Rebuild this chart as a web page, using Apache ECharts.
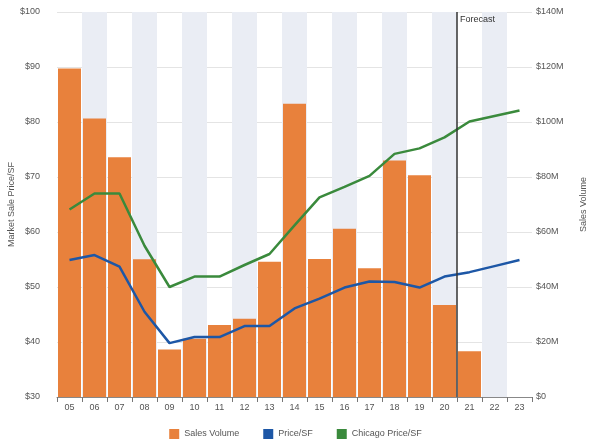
<!DOCTYPE html>
<html>
<head>
<meta charset="utf-8">
<script src="https://cdn.jsdelivr.net/npm/echarts@6/dist/echarts.min.js"></script>
<style>
  html, body { margin: 0; padding: 0; background: #fff; }
  #main { width: 591px; height: 446px; }
</style>
</head>
<body>
<div id="main"></div>
<script>
// years on the x axis
const years = ['05','06','07','08','09','10','11','12','13','14','15','16','17','18','19','20','21','22','23'];
// sales volume, $M (right axis)
const salesVolume = [119.5, 101.3, 87.2, 50.1, 17.3, 21.2, 26.2, 28.5, 49.2, 106.6, 50.2, 61.2, 46.8, 86.0, 80.6, 33.5, 16.6, null, null];
// market sale price per SF (left axis)
const priceSF = [54.9, 55.8, 53.7, 45.5, 39.8, 40.9, 40.9, 42.9, 42.9, 46.1, 47.9, 49.9, 51.0, 50.9, 49.9, 51.9, 52.7, 53.8, 54.9];
const chicagoPriceSF = [64.1, 67.0, 67.0, 57.5, 50.0, 51.9, 51.9, 54.0, 56.0, 61.2, 66.3, 68.2, 70.2, 74.2, 75.2, 77.2, 80.1, 81.1, 82.1];
// forecast starts between '20' and '21' (category index)
const forecastAt = 15.5;

const labelColor = '#555';
const font = 'Liberation Sans';

let myChart = echarts.init(document.getElementById('main'));
const option = {
  animation: false,
  textStyle: { fontFamily: font },
  grid: { left: 57, right: 59, top: 12, bottom: 49, outerBoundsMode: 'none', containLabel: false },
  legend: {
    bottom: 2,
    left: 'center',
    itemWidth: 10,
    itemHeight: 10,
    itemGap: 24,
    icon: 'rect',
    textStyle: { fontSize: 9, color: labelColor, fontFamily: font },
    data: ['Sales Volume', 'Price/SF', 'Chicago Price/SF']
  },
  xAxis: [
    {
      type: 'category',
      data: years,
      axisLine: { lineStyle: { color: '#888' } },
      axisTick: { show: true, length: 5, lineStyle: { color: '#777' } },
      axisLabel: { fontSize: 9, color: labelColor, margin: 6 },
      splitArea: { show: true, areaStyle: { color: ['rgba(255,255,255,0)', '#eaedf4'] } }
    },
    {
      type: 'value',
      min: -0.5,
      max: years.length - 0.5,
      show: false
    }
  ],
  yAxis: [
    {
      type: 'value',
      name: 'Market Sale Price/SF',
      nameLocation: 'middle',
      nameGap: 45,
      nameMoveOverlap: false,
      nameTextStyle: { fontSize: 9, color: labelColor, verticalAlign: 'middle' },
      min: 30, max: 100, interval: 10,
      axisLine: { show: false },
      axisTick: { show: false },
      axisLabel: { fontSize: 9, color: labelColor, formatter: '${value}', margin: 17 },
      splitLine: { lineStyle: { color: '#e4e4e4' } }
    },
    {
      type: 'value',
      name: 'Sales Volume',
      nameLocation: 'middle',
      nameGap: 47,
      nameMoveOverlap: false,
      nameTextStyle: { fontSize: 9, color: labelColor },
      min: 0, max: 140, interval: 20,
      axisLine: { show: false },
      axisTick: { show: false },
      axisLabel: { fontSize: 9, color: labelColor, formatter: v => v === 0 ? '$0' : '$' + v + 'M', margin: 4 },
      splitLine: { show: false }
    }
  ],
  series: [
    {
      name: 'Sales Volume',
      type: 'bar',
      yAxisIndex: 1,
      data: salesVolume,
      barCategoryGap: '8%',
      itemStyle: { color: '#e8813c' }
    },
    {
      name: 'Price/SF',
      type: 'line',
      data: priceSF,
      showSymbol: false,
      symbol: 'rect',
      lineStyle: { width: 2.5, color: '#1d57a6' },
      itemStyle: { color: '#1d57a6' }
    },
    {
      name: 'Chicago Price/SF',
      type: 'line',
      data: chicagoPriceSF,
      showSymbol: false,
      symbol: 'rect',
      lineStyle: { width: 2.5, color: '#3a8a3c' },
      itemStyle: { color: '#3a8a3c' }
    },
    {
      name: 'forecast',
      type: 'line',
      xAxisIndex: 1,
      data: [],
      markLine: {
        silent: true,
        symbol: 'none',
        lineStyle: { color: '#333', width: 1.5, type: 'solid' },
        label: {
          show: true,
          position: 'end',
          distance: 0,
          align: 'left',
          verticalAlign: 'top',
          offset: [3, 3],
          formatter: 'Forecast',
          fontSize: 9,
          color: '#333'
        },
        data: [{ xAxis: forecastAt }]
      }
    }
  ]
};
myChart.setOption(option);
</script>
</body>
</html>
